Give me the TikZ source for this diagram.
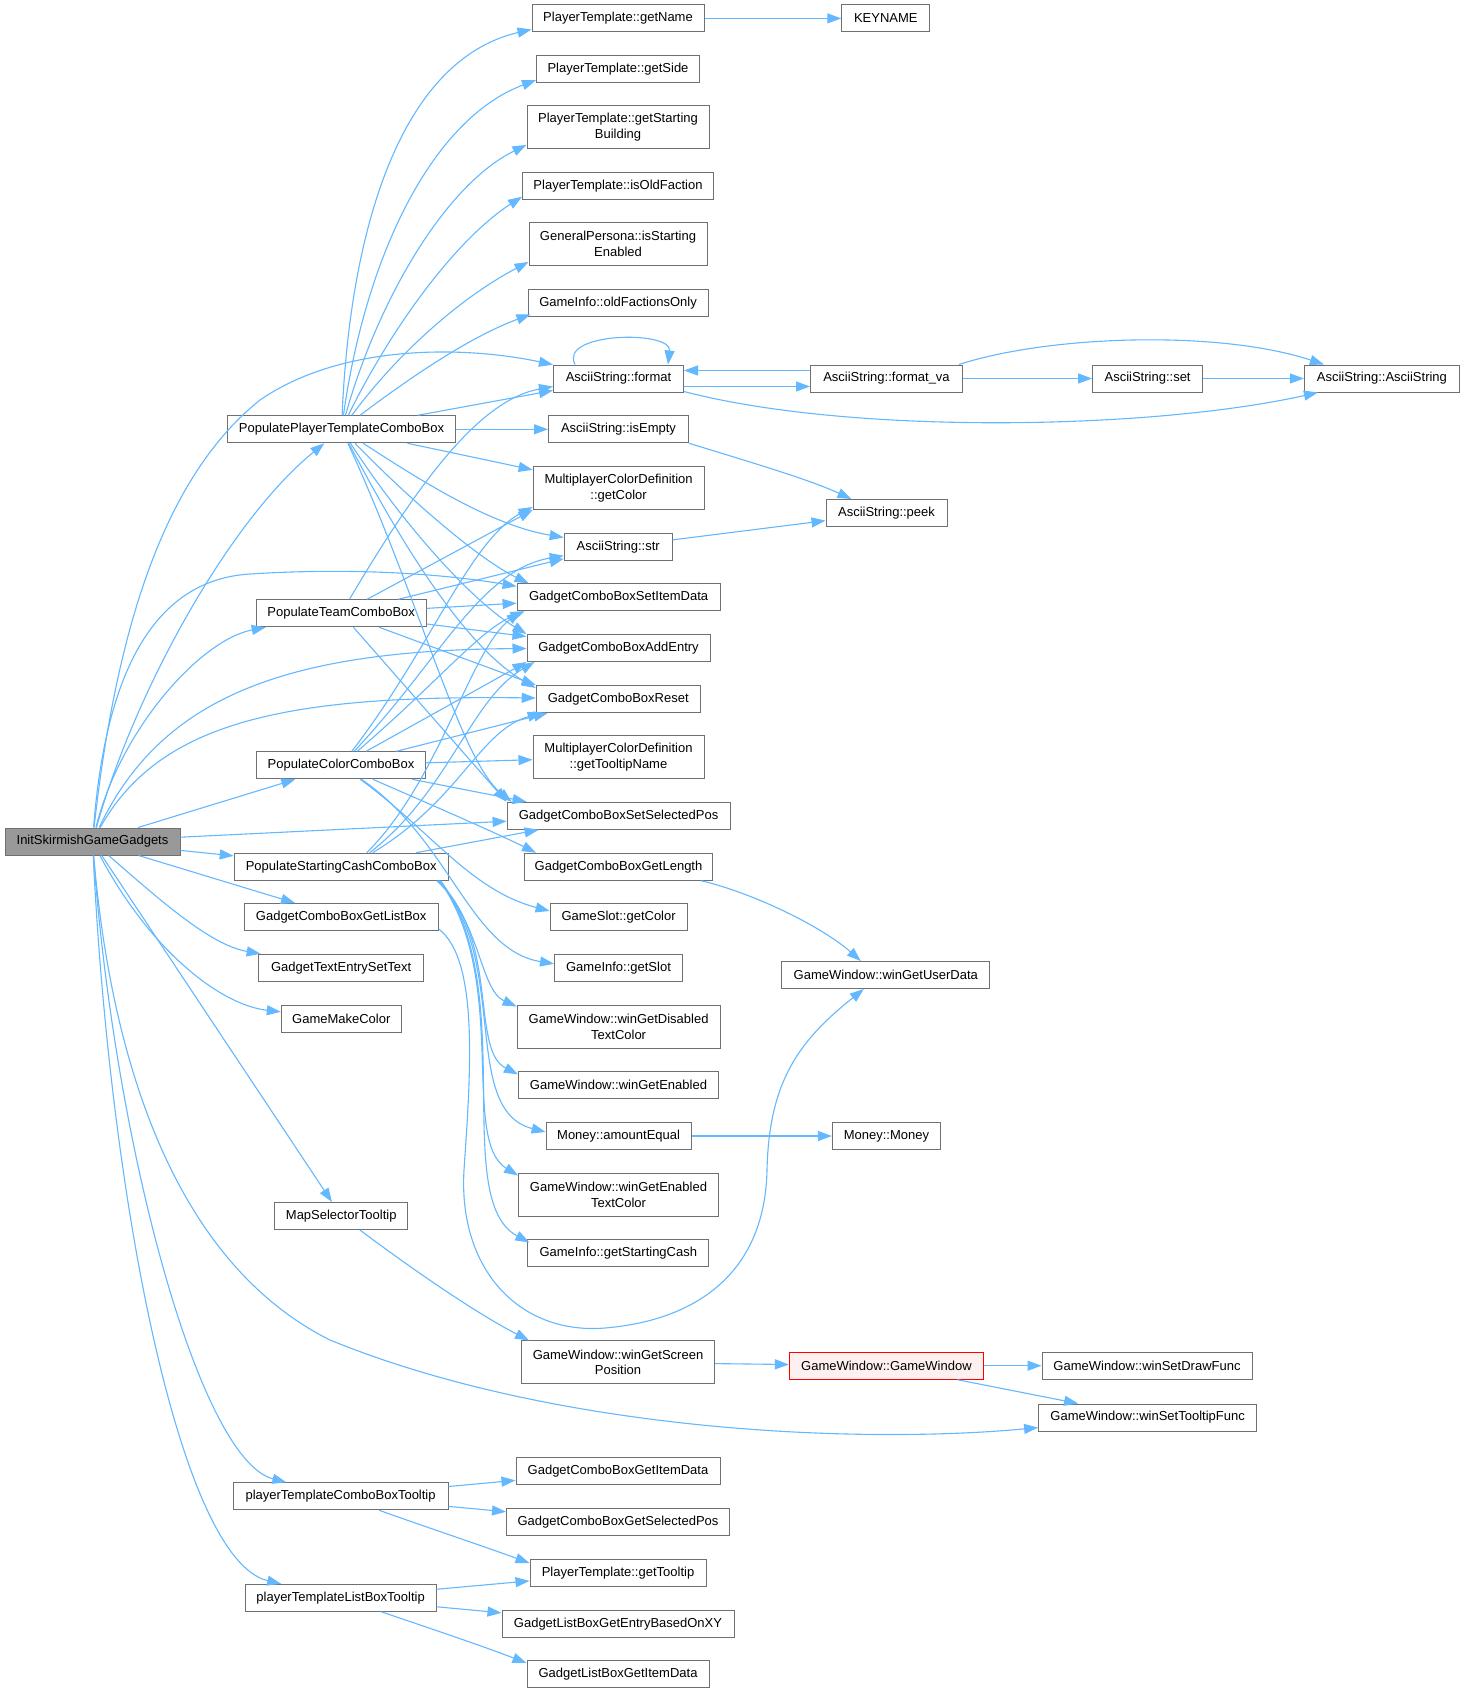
\documentclass[tikz,border=0pt]{standalone}
\usepackage{fontspec}
\setmainfont{Liberation Sans}
\usetikzlibrary{arrows.meta}
\definecolor{edgeblue}{HTML}{63B8FF}
\definecolor{nodegray}{HTML}{707070}
\definecolor{rootfill}{HTML}{999999}
\definecolor{redfill}{HTML}{FFF0F0}
\tikzset{
  nb/.style={draw=nodegray, fill=white, line width=1pt, inner sep=0pt, minimum height=27pt, align=center, font=\fontsize{13pt}{15.7pt}\selectfont},
  tall/.style={minimum height=43pt},
  cn/.style={draw=edgeblue, line width=1.1pt, -{Triangle[length=14pt,width=10pt]}},
}
\begin{document}
\begin{tikzpicture}[x=1pt,y=-1pt]
\useasboundingbox (0,0) rectangle (1466,1693);
\fill[white] (0,0) rectangle (1466,1693);
% left column
\node[nb, fill=rootfill, minimum width=175pt] (root) at (92.5,841.5) {InitSkirmishGameGadgets};
\node[nb, minimum width=228pt] (pptcb) at (341.5,429.3) {PopulatePlayerTemplateComboBox};
\node[nb, minimum width=170pt] (team) at (341.2,613.3) {PopulateTeamComboBox};
\node[nb, minimum width=169pt] (color) at (341,765.3) {PopulateColorComboBox};
\node[nb, minimum width=214pt] (cash) at (341.2,866.7) {PopulateStartingCashComboBox};
\node[nb, minimum width=194pt] (glb) at (341.2,917) {GadgetComboBoxGetListBox};
\node[nb, minimum width=165pt] (gtest) at (341.2,967.8) {GadgetTextEntrySetText};
\node[nb, minimum width=120pt] (gmc) at (341.3,1018.5) {GameMakeColor};
\node[nb, minimum width=133pt] (mst) at (341.2,1216) {MapSelectorTooltip};
\node[nb, minimum width=215pt] (ptcbt) at (340.6,1496.3) {playerTemplateComboBoxTooltip};
\node[nb, minimum width=191pt] (ptlbt) at (340.6,1597.8) {playerTemplateListBoxTooltip};
% middle column
\node[nb, minimum width=172pt] (gname) at (618,18.4) {PlayerTemplate::getName};
\node[nb, minimum width=163pt] (gside) at (618,69.1) {PlayerTemplate::getSide};
\node[nb, tall, minimum width=182pt] (gsb) at (618,126.9) {PlayerTemplate::getStarting\\Building};
\node[nb, minimum width=191pt] (iof) at (618,185.7) {PlayerTemplate::isOldFaction};
\node[nb, tall, minimum width=178pt] (ise) at (618,244) {GeneralPersona::isStarting\\Enabled};
\node[nb, minimum width=180pt] (ofo) at (618,303.4) {GameInfo::oldFactionsOnly};
\node[nb, minimum width=130pt] (fmt) at (618.5,378.5) {AsciiString::format};
\node[nb, minimum width=140pt] (isem) at (618.5,429.3) {AsciiString::isEmpty};
\node[nb, tall, minimum width=171pt] (mcdc) at (618.6,488) {MultiplayerColorDefinition\\::getColor};
\node[nb, minimum width=108pt] (str) at (618.2,546.7) {AsciiString::str};
\node[nb, minimum width=203pt] (sid) at (618.6,597.3) {GadgetComboBoxSetItemData};
\node[nb, minimum width=183pt] (add) at (618.5,648) {GadgetComboBoxAddEntry};
\node[nb, minimum width=164pt] (reset) at (618.2,699) {GadgetComboBoxReset};
\node[nb, tall, minimum width=171pt] (mcdt) at (618.5,757.2) {MultiplayerColorDefinition\\::getTooltipName};
\node[nb, minimum width=223pt] (ssp) at (618.6,815.8) {GadgetComboBoxSetSelectedPos};
\node[nb, minimum width=188pt] (glen) at (618.5,866.7) {GadgetComboBoxGetLength};
\node[nb, minimum width=137pt] (gscol) at (618.6,917) {GameSlot::getColor};
\node[nb, minimum width=128pt] (gslot) at (618.5,967.8) {GameInfo::getSlot};
\node[nb, tall, minimum width=203pt] (wgdtc) at (618.6,1026.5) {GameWindow::winGetDisabled\\TextColor};
\node[nb, minimum width=200pt] (wge) at (618.5,1085.3) {GameWindow::winGetEnabled};
\node[nb, minimum width=145pt] (ameq) at (618.6,1136) {Money::amountEqual};
\node[nb, tall, minimum width=200pt] (wgetc) at (618.5,1194.5) {GameWindow::winGetEnabled\\TextColor};
\node[nb, minimum width=181pt] (gsc) at (618.3,1253.4) {GameInfo::getStartingCash};
\node[nb, tall, minimum width=193pt] (wgsp) at (618,1362.4) {GameWindow::winGetScreen\\Position};
\node[nb, minimum width=204pt] (cgid) at (618,1471) {GadgetComboBoxGetItemData};
\node[nb, minimum width=223pt] (cgsp) at (618,1522.2) {GadgetComboBoxGetSelectedPos};
\node[nb, minimum width=176pt] (gtt) at (618,1573) {PlayerTemplate::getTooltip};
\node[nb, minimum width=232pt] (lgeb) at (618,1623.7) {GadgetListBoxGetEntryBasedOnXY};
\node[nb, minimum width=182pt] (lgid) at (618,1674) {GadgetListBoxGetItemData};
% right columns
\node[nb, minimum width=88pt] (key) at (885.8,18.4) {KEYNAME};
\node[nb, minimum width=152pt] (fva) at (886.5,378.5) {AsciiString::format\_va};
\node[nb, minimum width=121pt] (peek) at (886.5,513) {AsciiString::peek};
\node[nb, minimum width=208pt] (wgud) at (885.8,975) {GameWindow::winGetUserData};
\node[nb, minimum width=108pt] (money) at (886.4,1136) {Money::Money};
\node[nb, draw=red, fill=redfill, minimum width=194pt] (gw) at (886.4,1365.7) {GameWindow::GameWindow};
\node[nb, minimum width=110pt] (set) at (1147.6,378.5) {AsciiString::set};
\node[nb, minimum width=155pt] (ascii) at (1381.9,378.5) {AsciiString::AsciiString};
\node[nb, minimum width=210pt] (wsdf) at (1147,1365.7) {GameWindow::winSetDrawFunc};
\node[nb, minimum width=218pt] (wstf) at (1147.6,1417.5) {GameWindow::winSetTooltipFunc};
% root edges
\draw[cn] (root) .. controls (115,640) and (160,480) .. (260,400) .. controls (340,345) and (460,345) .. (fmt);
\draw[cn] (root) .. controls (135,690) and (230,520) .. (pptcb);
\draw[cn] (root) .. controls (105,680) and (150,580) .. (250,574) .. controls (360,567) and (450,575) .. ([yshift=-3pt]sid.north west);
\draw[cn] (root) .. controls (120,730) and (200,640) .. ([xshift=10pt]team.south west);
\draw[cn] (root) .. controls (160,700) and (280,650) .. (add);
\draw[cn] (root) .. controls (160,720) and (290,695) .. (reset);
\draw[cn] (root) -- (color);
\draw[cn] (root) -- (ssp);
\draw[cn] (root) -- (cash);
\draw[cn] (root) -- (glb);
\draw[cn] (root) .. controls (160,900) and (210,945) .. (gtest);
\draw[cn] (root) .. controls (150,950) and (220,1005) .. (gmc);
\draw[cn] (root) -- (mst);
\draw[cn] (root) .. controls (110,1050) and (170,1260) .. (330,1340) .. controls (550,1430) and (850,1445) .. (wstf);
\draw[cn] (root) .. controls (115,1150) and (200,1460) .. (ptcbt);
\draw[cn] (root) .. controls (110,1200) and (180,1560) .. (ptlbt);
% PopulatePlayerTemplateComboBox
\draw[cn] (pptcb) .. controls (350,230) and (400,60) .. ([yshift=3pt]gname.south west);
\draw[cn] (pptcb) .. controls (365,260) and (430,120) .. ([yshift=3pt]gside.south west);
\draw[cn] (pptcb) .. controls (378,300) and (445,185) .. ([yshift=4pt]gsb.south west);
\draw[cn] (pptcb) .. controls (390,330) and (455,240) .. ([yshift=3pt]iof.south west);
\draw[cn] (pptcb) .. controls (400,350) and (465,295) .. ([yshift=4pt]ise.south west);
\draw[cn] (pptcb) .. controls (420,370) and (475,335) .. ([xshift=3pt,yshift=3pt]ofo.south west);
\draw[cn] (pptcb) -- (fmt);
\draw[cn] (pptcb) -- (isem);
\draw[cn] (pptcb) -- (mcdc);
\draw[cn] (pptcb) .. controls (420,480) and (490,525) .. (str);
\draw[cn] (pptcb) .. controls (410,500) and (480,560) .. ([xshift=12pt]sid.north west);
\draw[cn] (pptcb) .. controls (400,520) and (470,600) .. (add.north west);
\draw[cn] (pptcb) .. controls (410,560) and (470,650) .. ([yshift=-3pt]reset.north west);
\draw[cn] (pptcb) .. controls (420,600) and (460,760) .. ([xshift=5pt]ssp.north west);
% PopulateTeamComboBox
\draw[cn] (team) .. controls (420,480) and (480,400) .. ([yshift=-8pt]fmt.west);
\draw[cn] (team) -- (mcdc.south west);
\draw[cn] (team) -- ([yshift=2pt]str.south west);
\draw[cn] (team) -- (sid);
\draw[cn] (team) -- (add);
\draw[cn] (team) -- (reset.north west);
\draw[cn] (team) -- (ssp.north west);
% PopulateColorComboBox
\draw[cn] (color) .. controls (430,650) and (470,540) .. ([yshift=3pt]mcdc.south west);
\draw[cn] (color) .. controls (440,660) and (480,570) .. ([yshift=5pt]str.south west);
\draw[cn] (color) .. controls (440,680) and (480,630) .. ([xshift=8pt]sid.south west);
\draw[cn] (color) -- (add.south west);
\draw[cn] (color) -- ([xshift=12pt]reset.south west);
\draw[cn] (color) -- (mcdt);
\draw[cn] (color) -- ([xshift=20pt]ssp.north west);
\draw[cn] (color) .. controls (420,800) and (490,830) .. ([xshift=12pt]glen.north west);
\draw[cn] (color) .. controls (430,830) and (470,890) .. ([yshift=6pt]gscol.west);
\draw[cn] (color) .. controls (450,840) and (470,950) .. ([yshift=4pt]gslot.west);
% PopulateStartingCashComboBox
\draw[cn] ([xshift=133pt]cash.north west) .. controls (440,780) and (470,650) .. ([xshift=4pt]sid.south west);
\draw[cn] ([xshift=136pt]cash.north west) .. controls (450,790) and (470,700) .. ([xshift=8pt]add.south west);
\draw[cn] ([xshift=139pt]cash.north west) .. controls (460,800) and (480,730) .. ([xshift=6pt]reset.south west);
\draw[cn] (cash) -- ([xshift=32pt]ssp.south west);
\draw[cn] ([xshift=-12pt]cash.south east) .. controls (480,920) and (480,990) .. ([yshift=-2pt]wgdtc.north west);
\draw[cn] ([xshift=-11pt]cash.south east) .. controls (500,940) and (470,1050) .. ([yshift=-3pt]wge.north west);
\draw[cn] ([xshift=-10pt]cash.south east) .. controls (510,960) and (460,1110) .. ([yshift=4pt]ameq.west);
\draw[cn] ([xshift=-9pt]cash.south east) .. controls (510,980) and (460,1140) .. ([yshift=-3pt]wgetc.north west);
\draw[cn] ([xshift=-8pt]cash.south east) .. controls (520,990) and (450,1200) .. ([xshift=2pt,yshift=-3pt]gsc.north west);
% GetListBox / GetLength
\draw[cn] ([yshift=2pt]glb.south east) .. controls (480,960) and (470,1080) .. (464,1170) .. controls (458,1270) and (520,1335) .. (605,1328) .. controls (700,1320) and (765,1270) .. (767,1170) .. controls (769,1080) and (800,1040) .. ([xshift=-22pt]wgud.south);
\draw[cn] ([xshift=-12pt]glen.south east) .. controls (750,892) and (820,925) .. ([xshift=-25pt]wgud.north);
% AsciiString cluster
\draw[cn] (isem.south east) .. controls (760,465) and (810,480) .. ([xshift=-35pt]peek.north);
\draw[cn] (str) -- (peek);
\draw[cn] (gname) -- (key);
\draw[cn] ([xshift=22pt]fmt.north west) .. controls (558,332) and (672,330) .. ([xshift=-16pt]fmt.north east);
\draw[cn] ([yshift=-8pt]fmt.east) -- ([yshift=-8pt]fva.west);
\draw[cn] ([yshift=8pt]fva.west) -- ([yshift=8pt]fmt.east);
\draw[cn] (fva) -- (set);
\draw[cn] (set) -- (ascii);
\draw[cn] ([xshift=-4pt]fva.north east) .. controls (1050,335) and (1220,330) .. ([xshift=20pt]ascii.north west);
\draw[cn] ([yshift=1pt]fmt.south east) .. controls (850,435) and (1150,430) .. ([xshift=14pt]ascii.south west);
% GameWindow cluster
\draw[cn] (mst) .. controls (400,1260) and (470,1310) .. ([xshift=8pt]wgsp.north west);
\draw[cn] (wgsp) -- (gw);
\draw[cn] (gw) -- (wsdf);
\draw[cn] (gw) -- ([xshift=40pt]wstf.north west);
\draw[cn] (ameq) -- (money);
% tooltips
\draw[cn] (ptcbt) -- (cgid);
\draw[cn] (ptcbt) -- (cgsp);
\draw[cn] (ptcbt) .. controls (420,1525) and (480,1545) .. ([yshift=-4pt]gtt.north west);
\draw[cn] (ptlbt) -- (gtt);
\draw[cn] (ptlbt) -- (lgeb);
\draw[cn] (ptlbt) .. controls (420,1625) and (480,1645) .. ([yshift=-3pt]lgid.north west);
\end{tikzpicture}
\end{document}
